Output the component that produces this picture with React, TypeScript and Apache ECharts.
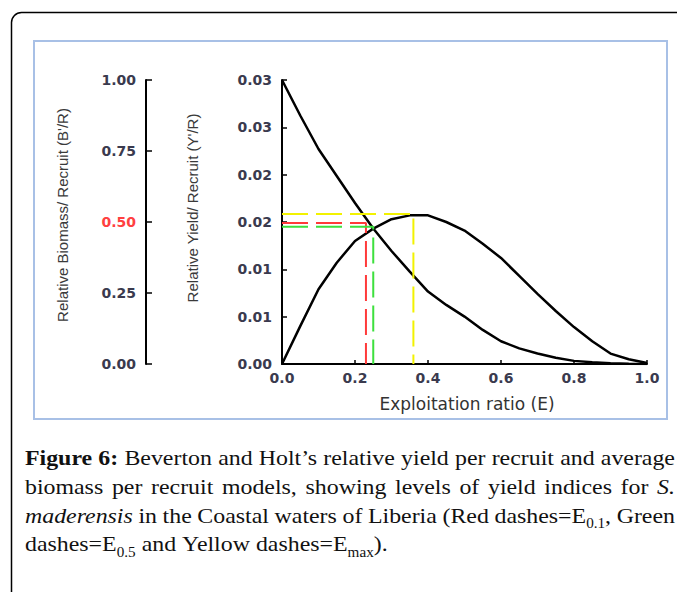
import React, { useEffect, useRef } from "react";
import * as echarts from "echarts";

// ---------- data ----------
const exploitation = [0, 0.05, 0.1, 0.15, 0.2, 0.25, 0.3, 0.35, 0.4, 0.45, 0.5, 0.55, 0.6, 0.65, 0.7, 0.75, 0.8, 0.85, 0.9, 0.95, 1.0];
const relativeYield = [0, 0.004, 0.0079, 0.0107, 0.013, 0.0143, 0.0153, 0.0157, 0.0157, 0.015, 0.0141, 0.0127, 0.0112, 0.0093, 0.0074, 0.0056, 0.0039, 0.0024, 0.0011, 0.0005, 0.0001];
const relativeBiomass = [1.0, 0.875, 0.757, 0.662, 0.567, 0.477, 0.398, 0.325, 0.255, 0.208, 0.167, 0.12, 0.08, 0.055, 0.037, 0.022, 0.011, 0.006, 0.003, 0.001, 0];

const refNames = ["E0.1", "E0.5", "Emax"];
const refExploitation = [0.23, 0.25, 0.36];
const refYield = [0.0149, 0.0145, 0.01585];

const xTickLabels = ["0.0", "0.2", "0.4", "0.6", "0.8", "1.0"];
const yieldTickLabels = ["0.00", "0.01", "0.01", "0.02", "0.02", "0.03", "0.03"];
const biomassTickLabels = ["0.00", "0.25", "0.50", "0.75", "1.00"];

const xAxisName = "Exploitation ratio (E)";
const yieldAxisName = "Relative Yield/ Recruit (Y'/R)";
const biomassAxisName = "Relative Biomass/ Recruit (B'/R)";

const captionLines = [
  "**Figure 6:** Beverton and Holt’s relative yield per recruit and average",
  "biomass per recruit models, showing levels of yield indices for *S.*",
  "*maderensis* in the Coastal waters of Liberia (Red dashes=E_{0.1}, Green",
  "dashes=E_{0.5} and Yellow dashes=E_{max}).",
];
const captionJustify = [true, true, true, false];

// ---------- styles ----------
const refColors = ["#ff3a3a", "#3de03d", "#f2f200"];
const tickColor = "#3a3a4e";
const CAP_SIZE = 22;
const SUB_SIZE = 14;
const CAP_SCALE_X = 1.085;
const CAP_LEFT = 25;
const CAP_RIGHT = 675;
const CAP_TOP = 458;
const CAP_LINE = 28.7;
const SUB_DROP = 8;

type Run = { s: string; t: string };

function parseLine(line: string): Run[][] {
  const re = /\*\*(.+?)\*\*|\*(.+?)\*|_\{(.+?)\}|([^*_]+)/g;
  const runs: Run[] = [];
  let m: RegExpExecArray | null;
  while ((m = re.exec(line))) {
    if (m[1]) runs.push({ s: "b", t: m[1] });
    else if (m[2]) runs.push({ s: "i", t: m[2] });
    else if (m[3]) runs.push({ s: "sub", t: m[3] });
    else runs.push({ s: "n", t: m[4] });
  }
  const words: Run[][] = [[]];
  for (const r of runs) {
    const parts = r.t.split(" ");
    parts.forEach((p, k) => {
      if (k > 0) words.push([]);
      if (p) words[words.length - 1].push({ s: r.s, t: p });
    });
  }
  return words.filter((w) => w.length > 0);
}

function cssFont(s: string) {
  const size = s === "sub" ? SUB_SIZE : CAP_SIZE;
  const weight = s === "b" ? "bold " : "";
  const style = s === "i" ? "italic " : "";
  return `${style}${weight}${size}px "Liberation Serif"`;
}

function buildCaption() {
  const canvas = document.createElement("canvas");
  const ctx = canvas.getContext("2d") as CanvasRenderingContext2D;
  const measure = (r: Run) => {
    ctx.font = cssFont(r.s);
    return ctx.measureText(r.t).width * CAP_SCALE_X;
  };
  const els: any[] = [];
  captionLines.forEach((line, li) => {
    const words = parseLine(line);
    const widths = words.map((w) => w.reduce((a, r) => a + measure(r), 0));
    const total = widths.reduce((a, b) => a + b, 0);
    const space = measure({ s: "n", t: " " });
    const gap = captionJustify[li] && words.length > 1 ? (CAP_RIGHT - CAP_LEFT - total) / (words.length - 1) : space;
    let x = CAP_LEFT;
    const yMid = CAP_TOP + li * CAP_LINE;
    words.forEach((w, wi) => {
      let rx = x;
      w.forEach((r) => {
        const rw = measure(r);
        els.push({
          type: "text",
          x: rx,
          y: r.s === "sub" ? yMid + SUB_DROP : yMid,
          scaleX: CAP_SCALE_X,
          style: {
            text: r.t,
            fontFamily: "Liberation Serif",
            fontSize: r.s === "sub" ? SUB_SIZE : CAP_SIZE,
            fontWeight: r.s === "b" ? "bold" : "normal",
            fontStyle: r.s === "i" ? "italic" : "normal",
            fill: "#111",
            align: "left",
            verticalAlign: "middle",
          },
        });
        rx += rw;
      });
      x += widths[wi] + gap;
    });
  });
  return els;
}

function buildOption() {
  const tickLabelStyle = {
    fontFamily: "DejaVu Sans",
    fontWeight: "bold",
    fontSize: 14,
    color: tickColor,
  };
  const axisLine = { show: true, lineStyle: { color: "#000", width: 2 } };
  const refSeries = refNames.map((name, i) => ({
    name,
    type: "line",
    xAxisIndex: 0,
    yAxisIndex: 0,
    symbol: "none",
    showSymbol: false,
    z: 3,
    lineStyle: { color: refColors[i], width: 2, type: [26, 8] },
    data: [
      [0, refYield[i]],
      [refExploitation[i], refYield[i]],
      [refExploitation[i], 0],
    ],
  }));

  return {
    animation: false,
    backgroundColor: "#ffffff",
    grid: { left: 282, right: 30, top: 80, bottom: 228, containLabel: false },
    xAxis: {
      type: "value",
      min: 0,
      max: 1,
      interval: 0.2,
      axisLine,
      axisTick: { show: true, inside: true, length: 4, lineStyle: { color: "#000", width: 1.5 } },
      axisLabel: {
        ...tickLabelStyle,
        margin: 7,
        formatter: (v: number) => xTickLabels[Math.round(v / 0.2)] ?? "",
      },
      splitLine: { show: false },
    },
    yAxis: [
      {
        type: "value",
        position: "left",
        min: 0,
        max: 0.03,
        interval: 0.005,
        axisLine,
        axisTick: { show: true, inside: true, length: 5, lineStyle: { color: "#000", width: 1.5 } },
        axisLabel: {
          ...tickLabelStyle,
          margin: 10,
          formatter: (v: number) => yieldTickLabels[Math.round(v / 0.005)] ?? "",
        },
        splitLine: { show: false },
      },
      {
        type: "value",
        position: "left",
        offset: 136,
        min: 0,
        max: 1,
        interval: 0.25,
        axisLine,
        axisTick: { show: true, inside: true, length: 6, lineStyle: { color: "#000", width: 1.5 } },
        axisLabel: {
          margin: 10,
          formatter: (v: number) => {
            const idx = Math.round(v / 0.25);
            const t = biomassTickLabels[idx] ?? "";
            return idx === 2 ? `{r|${t}}` : `{g|${t}}`;
          },
          rich: {
            r: { ...tickLabelStyle, color: "#ff4040" },
            g: { ...tickLabelStyle },
          },
        },
        splitLine: { show: false },
      },
    ],
    series: [
      {
        name: "Y'/R",
        type: "line",
        yAxisIndex: 0,
        symbol: "none",
        showSymbol: false,
        z: 2,
        lineStyle: { color: "#000", width: 2.5 },
        data: exploitation.map((e, i) => [e, relativeYield[i]]),
      },
      {
        name: "B'/R",
        type: "line",
        yAxisIndex: 1,
        symbol: "none",
        showSymbol: false,
        z: 2,
        lineStyle: { color: "#000", width: 2.5 },
        data: exploitation.map((e, i) => [e, relativeBiomass[i]]),
      },
      ...refSeries,
    ],
    graphic: [
      {
        type: "rect",
        silent: true,
        shape: { x: 11.5, y: 12.5, width: 720, height: 640, r: 10 },
        style: { fill: "none", stroke: "#000", lineWidth: 1.5 },
      },
      {
        type: "rect",
        silent: true,
        shape: { x: 34, y: 41, width: 633, height: 378 },
        style: { fill: "none", stroke: "#a8c0e6", lineWidth: 2 },
      },
      {
        type: "text",
        x: 62,
        y: 215,
        rotation: Math.PI / 2,
        style: {
          text: biomassAxisName,
          fontFamily: "Liberation Sans",
          fontSize: 15,
          fill: "#3a3a3a",
          align: "center",
          verticalAlign: "middle",
        },
      },
      {
        type: "text",
        x: 192.5,
        y: 208,
        rotation: Math.PI / 2,
        style: {
          text: yieldAxisName,
          fontFamily: "Liberation Sans",
          fontSize: 15,
          fill: "#3a3a3a",
          align: "center",
          verticalAlign: "middle",
        },
      },
      {
        type: "text",
        x: 467,
        y: 404,
        style: {
          text: xAxisName,
          fontFamily: "DejaVu Sans",
          fontSize: 17,
          fill: "#333",
          align: "center",
          verticalAlign: "middle",
        },
      },
      ...buildCaption(),
    ],
  };
}

export default function App() {
  const ref = useRef<HTMLDivElement>(null);
  useEffect(() => {
    if (!ref.current) return;
    const chart = echarts.init(ref.current, undefined, { renderer: "svg" });
    chart.setOption(buildOption() as any);
    return () => chart.dispose();
  }, []);
  return (
    <div
      ref={ref}
      style={{ position: "fixed", left: 0, top: 0, width: 677, height: 592, background: "#fff" }}
    />
  );
}
